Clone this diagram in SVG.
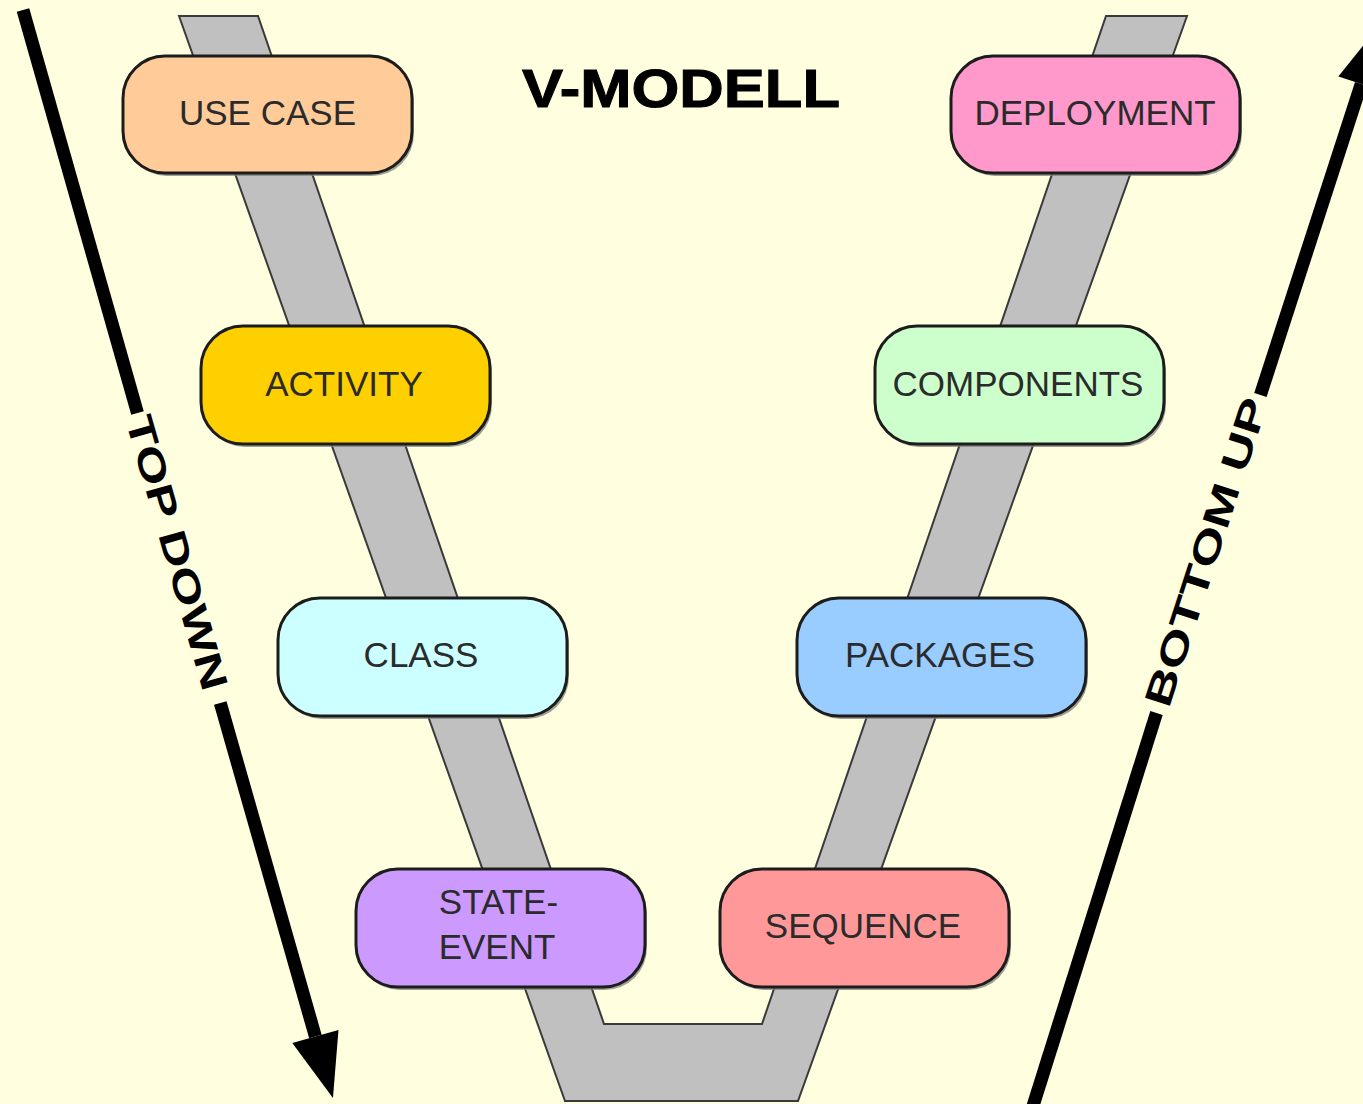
<svg xmlns="http://www.w3.org/2000/svg" width="1363" height="1104" viewBox="0 0 1363 1104">
  <defs>
    <style>
      .bg { fill: #FFFFE0; }
      .band { fill: #C0C0C0; stroke: #3a3a3a; stroke-width: 2; stroke-linejoin: miter; }
      .shadow { fill: #7f7f7f; opacity: 0.75; }
      .node { stroke: #1c1c1c; stroke-width: 3; }
      .label { font-family: "Liberation Sans", Arial, sans-serif; font-size: 35px; fill: #2b2b2b; text-anchor: middle; }
      .title { font-family: "Liberation Sans", Arial, sans-serif; font-weight: bold; font-size: 54px; fill: #000; stroke: #000; stroke-width: 1; }
      .dir { font-family: "Liberation Sans", Arial, sans-serif; font-weight: bold; font-size: 38px; fill: #000; text-anchor: middle; }
      .shaft { fill: none; stroke: #000; stroke-width: 13; stroke-linecap: butt; }
    </style>
    <marker id="head" markerUnits="userSpaceOnUse" viewBox="0 -26 66 52" refX="0" refY="0" markerWidth="66" markerHeight="52" orient="auto" overflow="visible">
      <path d="M0,-24 L64,0 L0,24 Z" fill="#000"/>
    </marker>
  </defs>

  <rect class="bg" x="0" y="0" width="1363" height="1104"/>

  <!-- grey V-shaped track behind the phases -->
  <g id="v-track">
    <polygon class="band" points="179,16 565,1101 798,1101 1187,16 1106,16 762,1024 604,1024 258,16"/>
  </g>

  <!-- direction arrows along both sides -->
  <g id="connectors">
    <path class="shaft" d="M23,10 L137.5,413"/>
    <path class="shaft" d="M220.3,703 L315.4,1036.5" marker-end="url(#head)"/>
    <path class="shaft" d="M1033,1106 L1156.5,713"/>
    <path class="shaft" d="M1260.4,395 L1361.2,84" marker-end="url(#head)"/>
  </g>

  <g id="title">
    <text class="title" x="522" y="107" textLength="318" lengthAdjust="spacingAndGlyphs">V-MODELL</text>
  </g>

  <g id="label-top-down">
    <text class="dir" transform="translate(177.3,552.5) rotate(74.07)" x="0" y="13.5" textLength="284" lengthAdjust="spacingAndGlyphs">TOP DOWN</text>
  </g>
  <g id="label-bottom-up">
    <text class="dir" transform="translate(1205.5,552) rotate(-72.05)" x="0" y="13.5" textLength="322" lengthAdjust="spacingAndGlyphs">BOTTOM UP</text>
  </g>

  <!-- left branch: top-down phases -->
  <g id="node-use-case">
    <rect class="shadow" x="125" y="59" width="289" height="117" rx="42"/>
    <rect class="node" x="123" y="56" width="289" height="117" rx="42" fill="#FFCC99"/>
    <text class="label" x="267.5" y="125">USE CASE</text>
  </g>
  <g id="node-activity">
    <rect class="shadow" x="203" y="329" width="289" height="118" rx="42"/>
    <rect class="node" x="201" y="326" width="289" height="118" rx="42" fill="#FFD000"/>
    <text class="label" x="344" y="396">ACTIVITY</text>
  </g>
  <g id="node-class">
    <rect class="shadow" x="280" y="601" width="289" height="118" rx="42"/>
    <rect class="node" x="278" y="598" width="289" height="118" rx="42" fill="#CCFFFF"/>
    <text class="label" x="421" y="667">CLASS</text>
  </g>
  <g id="node-state-event">
    <rect class="shadow" x="358" y="872" width="289" height="118" rx="42"/>
    <rect class="node" x="356" y="869" width="289" height="118" rx="42" fill="#CC99FF"/>
    <text class="label" x="498.5" y="914">STATE-</text>
    <text class="label" x="497" y="959">EVENT</text>
  </g>

  <!-- right branch: bottom-up phases -->
  <g id="node-sequence">
    <rect class="shadow" x="722" y="872" width="289" height="118" rx="42"/>
    <rect class="node" x="720" y="869" width="289" height="118" rx="42" fill="#FF9999"/>
    <text class="label" x="863" y="938">SEQUENCE</text>
  </g>
  <g id="node-packages">
    <rect class="shadow" x="799" y="601" width="289" height="118" rx="42"/>
    <rect class="node" x="797" y="598" width="289" height="118" rx="42" fill="#99CCFF"/>
    <text class="label" x="940" y="667">PACKAGES</text>
  </g>
  <g id="node-components">
    <rect class="shadow" x="877" y="329" width="289" height="118" rx="42"/>
    <rect class="node" x="875" y="326" width="289" height="118" rx="42" fill="#CCFFCC"/>
    <text class="label" x="1018" y="396">COMPONENTS</text>
  </g>
  <g id="node-deployment">
    <rect class="shadow" x="953" y="59" width="289" height="117" rx="42"/>
    <rect class="node" x="951" y="56" width="289" height="117" rx="42" fill="#FF99CC"/>
    <text class="label" x="1095" y="125">DEPLOYMENT</text>
  </g>
</svg>
